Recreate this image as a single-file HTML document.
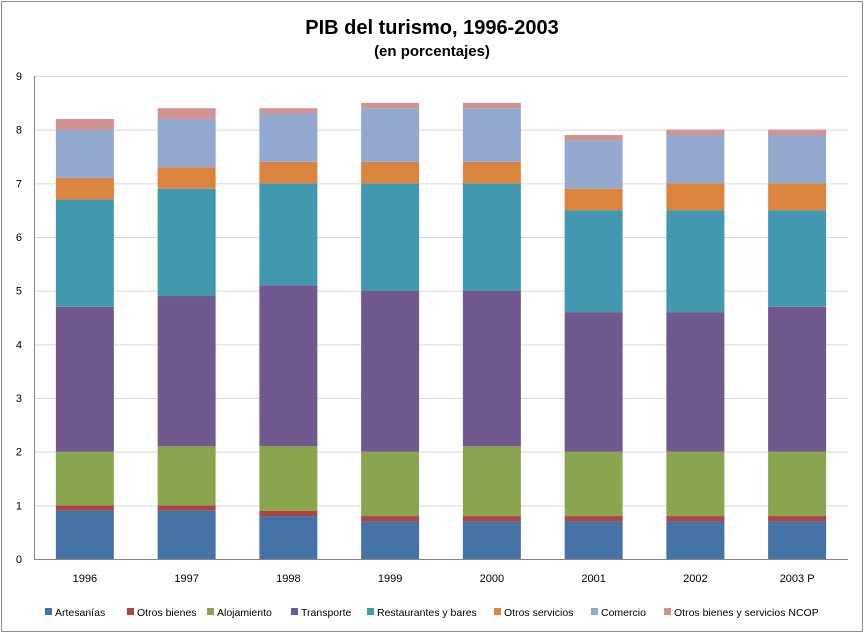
<!DOCTYPE html>
<html><head><meta charset="utf-8"><style>
body{margin:0;background:#fff;font-family:"Liberation Sans",sans-serif}
#c{position:relative;width:865px;height:634px}
</style></head><body>
<div id="c">
<svg id="s" width="865" height="634" xmlns="http://www.w3.org/2000/svg">
<rect x="1.5" y="1.5" width="861" height="630" fill="#fff" stroke="#8c8c8c"/>
<text x="432" y="34" text-anchor="middle" font-size="20" font-weight="bold">PIB del turismo, 1996-2003</text>
<text x="432" y="56" text-anchor="middle" font-size="15" font-weight="bold">(en porcentajes)</text>
</svg>
</div>
<script>
const categories=["1996","1997","1998","1999","2000","2001","2002","2003 P"];
const seriesNames=["Artesanías","Otros bienes","Alojamiento","Transporte","Restaurantes y bares","Otros servicios","Comercio","Otros bienes y servicios NCOP"];
const artesanias=[0.9,0.9,0.8,0.7,0.7,0.7,0.7,0.7];
const otrosBienes=[0.1,0.1,0.1,0.1,0.1,0.1,0.1,0.1];
const alojamiento=[1.0,1.1,1.2,1.2,1.3,1.2,1.2,1.2];
const transporte=[2.7,2.8,3.0,3.0,2.9,2.6,2.6,2.7];
const restaurantes=[2.0,2.0,1.9,2.0,2.0,1.9,1.9,1.8];
const otrosServicios=[0.4,0.4,0.4,0.4,0.4,0.4,0.5,0.5];
const comercio=[0.9,0.9,0.9,1.0,1.0,0.9,0.9,0.9];
const ncop=[0.2,0.2,0.1,0.1,0.1,0.1,0.1,0.1];
const yTicks=[0,1,2,3,4,5,6,7,8,9];
const series=[artesanias,otrosBienes,alojamiento,transporte,restaurantes,otrosServicios,comercio,ncop];
const colors=["#4572A7","#AA4643","#89A54E","#71588F","#4198AF","#DB843D","#93A9CF","#D19392"];
const NS="http://www.w3.org/2000/svg";
const svg=document.getElementById('s');
const L=34,R=848,T=76,B=559,ymax=9;
const y=v=>B-(v/ymax)*(B-T);
const band=(R-L)/categories.length;
const x=i=>L+band*i+band/2;
const bw=58;
function mk(tag,a){const e=document.createElementNS(NS,tag);for(const k in a)e.setAttribute(k,a[k]);svg.appendChild(e);return e;}
yTicks.forEach(t=>{
 const g=mk('line',{x1:L,x2:R,y1:y(t)+0.5,y2:y(t)+0.5,stroke:t===0?'#868686':'#d9d9d9'});
 
 
 const tx=mk('text',{x:L-12,y:y(t)+4,'text-anchor':'end','font-size':11});
 tx.textContent=t;
 
 
});
mk('line',{x1:L+0.5,x2:L+0.5,y1:T,y2:B,stroke:'#868686'});
categories.forEach((c,i)=>{
 let cum=0;
 series.forEach((s,k)=>{
  const r=mk('rect',{x:x(i)-bw/2,y:y(cum+s[i]),width:bw,height:y(cum)-y(cum+s[i]),fill:colors[k]});
  
  
  cum+=s[i];
 });
 const tx=mk('text',{x:x(i),y:582,'text-anchor':'middle','font-size':11});
 tx.textContent=c;
 
 
});
const legX=[45,127,207,291,367,494,591,664];
seriesNames.forEach((n,k)=>{
 const r=mk('rect',{x:legX[k],y:608,width:7,height:7,fill:colors[k]});
 
 
 const tx=mk('text',{x:legX[k]+10,y:616,'font-size':10.5});
 tx.textContent=n;
 
 
});
</script>
</body></html>
